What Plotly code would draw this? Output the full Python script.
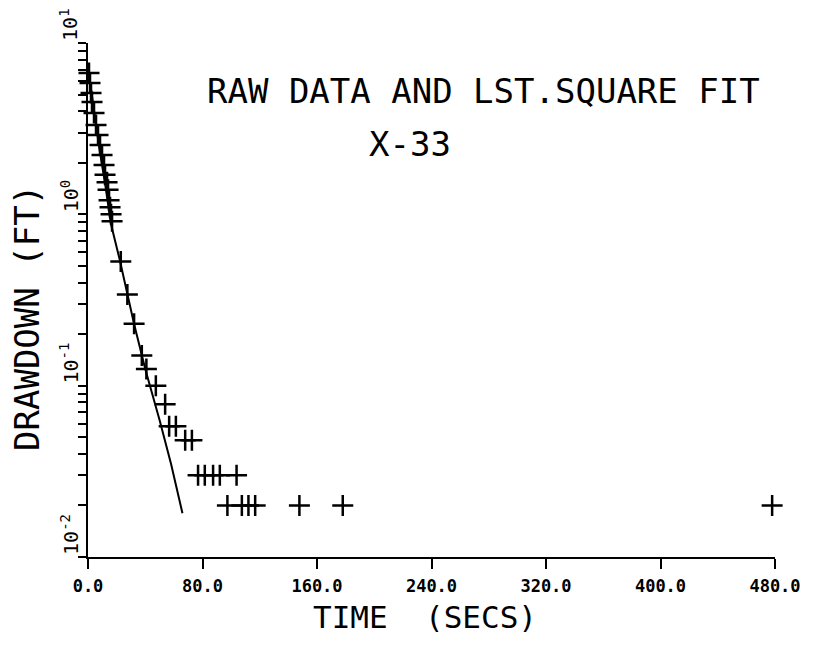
import math
import plotly.graph_objects as go

# ---- data ----
time_s = [0.7, 1.4, 2.1, 2.8, 4.2, 5.6, 7.0, 8.4, 9.8, 11.2, 11.9, 13.3, 14.0, 14.7, 15.4, 16.1, 16.8,
          22.9, 27.5, 32.2, 37.6, 40.8, 47.4, 53.9, 56.7, 61.4, 67.9, 72.6,
          76.9, 81.6, 87.4, 92.1, 103.8,
          97.4, 107.5, 112.1, 116.8, 147.7, 178.0, 478.0]
drawdown_ft = [6.68, 5.84, 5.11, 4.52, 3.90, 3.32, 2.90, 2.54, 2.22, 1.94, 1.70, 1.54, 1.39, 1.21, 1.10, 1.00, 0.91,
               0.53, 0.34, 0.23, 0.15, 0.125, 0.10, 0.078, 0.058, 0.058, 0.048, 0.048,
               0.03, 0.03, 0.03, 0.03, 0.03,
               0.02, 0.02, 0.02, 0.02, 0.02, 0.02, 0.02]

fit_time = [0.0, 4.0, 8.0, 12.0, 16.0, 22.0, 27.5, 32.2, 40.0, 50.0, 58.0, 66.0]
fit_drawdown = [7.2, 4.0, 2.4, 1.5, 0.88, 0.55, 0.338, 0.229, 0.125, 0.063, 0.035, 0.018]

x_tick_vals = [0, 80, 160, 240, 320, 400, 480]
x_tick_text = ["0.0", "80.0", "160.0", "240.0", "320.0", "400.0", "480.0"]
y_decades = [-2, -1, 0, 1]
y_decade_text = ["10<sup>-2</sup>", "10<sup>-1</sup>", "10<sup>0</sup>", "10<sup>1</sup>"]

title_text = "RAW DATA AND LST.SQUARE FIT"
subtitle_text = "X-33"
x_title = "TIME  (SECS)"
y_title = "DRAWDOWN (FT)"

FONT = "DejaVu Sans Mono"

# minor + major ticks for log axis
y_tick_vals = []
for d in y_decades[:-1]:
    for m in range(1, 10):
        y_tick_vals.append(m * 10 ** d)
y_tick_vals.append(10 ** y_decades[-1])

fig = go.Figure()
fig.add_trace(go.Scatter(x=fit_time, y=fit_drawdown, mode="lines",
                         line=dict(color="black", width=2), showlegend=False))
fig.add_trace(go.Scatter(x=time_s, y=drawdown_ft, mode="markers",
                         marker=dict(symbol="cross-thin", size=15, color="black",
                                     line=dict(color="black", width=2.5)),
                         showlegend=False, cliponaxis=False))

fig.update_layout(
    width=826, height=654,
    margin=dict(l=88, r=51, t=43, b=97),
    paper_bgcolor="white", plot_bgcolor="white",
    font=dict(family=FONT, color="black"),
    xaxis=dict(range=[0, 480], tickvals=x_tick_vals, ticktext=x_tick_text,
               ticks="outside", ticklen=10, tickwidth=2, tickcolor="black",
               showline=True, linecolor="black", linewidth=2, showgrid=False, zeroline=False,
               tickfont=dict(family=FONT, size=17, weight="bold"), ticklabelstandoff=3),
    yaxis=dict(type="log", range=[-2, 1], tickvals=y_tick_vals, showticklabels=False,
               ticks="outside", ticklen=8, tickwidth=2, tickcolor="black",
               showline=True, linecolor="black", linewidth=2, showgrid=False, zeroline=False),
)

annotations = [
    dict(text=title_text, xref="paper", yref="paper", x=0.576, y=0.907, showarrow=False,
         font=dict(family=FONT, size=34), xanchor="center", yanchor="middle"),
    dict(text=subtitle_text, xref="paper", yref="paper", x=0.469, y=0.803, showarrow=False,
         font=dict(family=FONT, size=34), xanchor="center", yanchor="middle"),
    dict(text=x_title, xref="paper", yref="paper", x=0.491, y=-0.117, showarrow=False,
         font=dict(family=FONT, size=31), xanchor="center", yanchor="middle"),
    dict(text=y_title, xref="paper", yref="paper", x=-0.0888, y=0.465, showarrow=False,
         font=dict(family=FONT, size=34), xanchor="center", yanchor="middle", textangle=-90),
]
for d, txt in zip(y_decades, y_decade_text):
    annotations.append(dict(text=txt, xref="paper", yref="y", x=-0.027, y=d, showarrow=False,
                            font=dict(family=FONT, size=20), textangle=-90,
                            xanchor="center", yanchor="bottom"))
fig.update_layout(annotations=annotations)

fig.write_html("out.html")
